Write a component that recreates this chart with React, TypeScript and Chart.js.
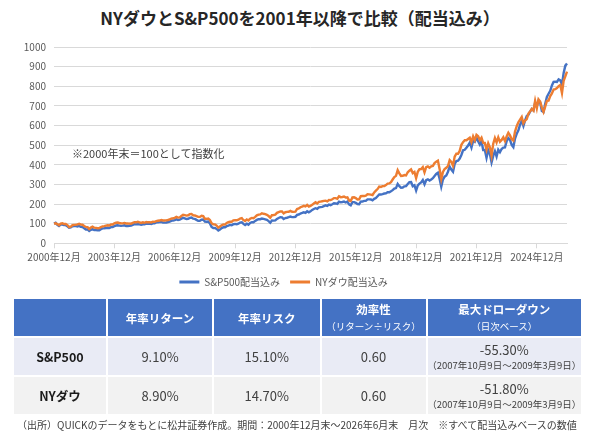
import React, { useEffect, useRef } from "react";
import { Chart, registerables } from "chart.js";

Chart.register(...registerables);

const FONT = '"Noto Sans CJK JP", "Noto Sans", sans-serif';

// Categories: month-end labels from 2000年12月 to 2026年6月
const START_YEAR = 2000;
const START_MONTH = 12;
const END_YEAR = 2026;
const END_MONTH = 6;
const months: string[] = [];
for (let y = START_YEAR, m = START_MONTH; y < END_YEAR || (y === END_YEAR && m <= END_MONTH); ) {
  months.push(`${y}年${m}月`);
  m++;
  if (m > 12) { m = 1; y++; }
}

const tickLabels = [
  "2000年12月", "2003年12月", "2006年12月", "2009年12月", "2012年12月",
  "2015年12月", "2018年12月", "2021年12月", "2024年12月",
];

const seriesNames = ["S&P500配当込み", "NYダウ配当込み"];
const seriesColors = ["#4472C4", "#ED7D31"];

// S&P500 total return index (2000年末 = 100), monthly
const spx = [
  100.0,
  104.2, 94.6, 88.5, 95.3, 95.8, 93.4, 92.4, 86.5, 79.4, 80.9, 86.9, 87.6,
  87.3, 85.6, 88.7, 83.3, 82.5, 76.5, 70.5, 70.8, 63.0, 68.5, 72.4, 68.0,
  67.4, 66.2, 66.7, 72.2, 75.9, 76.7, 77.9, 79.3, 78.4, 82.7, 83.3, 87.5,
  90.6, 91.7, 90.2, 88.7, 89.8, 91.4, 88.3, 88.4, 89.3, 90.5, 94.0, 97.1,
  96.3, 98.1, 96.3, 94.3, 97.1, 97.1, 100.6, 99.4, 100.2, 98.4, 101.8, 101.7,
  106.4, 106.5, 107.6, 108.9, 105.5, 105.5, 106.1, 108.4, 111.0, 114.5, 116.4, 117.8,
  121.8, 119.2, 120.4, 125.5, 129.7, 127.3, 123.2, 124.8, 129.3, 131.2, 125.4, 124.3,
  119.3, 115.1, 114.4, 119.9, 121.1, 110.7, 109.6, 111.0, 100.9, 83.8, 77.5, 78.1,
  73.2, 65.1, 70.7, 77.3, 81.4, 81.4, 87.4, 90.5, 93.7, 91.8, 97.1, 98.8,
  97.3, 100.0, 105.9, 107.5, 98.7, 93.4, 99.8, 95.0, 103.4, 107.2, 107.0, 114.0,
  119.0, 122.7, 122.7, 126.2, 124.4, 122.2, 119.5, 112.8, 104.6, 115.9, 115.3, 116.4,
  124.0, 129.1, 133.1, 132.1, 123.8, 128.7, 130.3, 133.0, 136.2, 133.4, 133.8, 134.8,
  144.9, 146.5, 151.7, 154.5, 157.7, 155.3, 163.0, 157.9, 162.6, 169.9, 174.6, 178.7,
  175.8, 183.3, 184.6, 185.8, 189.7, 193.3, 190.4, 197.5, 194.4, 199.0, 203.9, 203.0,
  201.1, 212.2, 208.5, 210.3, 212.4, 208.0, 212.1, 198.8, 193.5, 209.6, 209.7, 206.0,
  199.8, 199.0, 212.2, 212.7, 216.0, 216.2, 223.9, 223.6, 223.3, 219.0, 226.5, 230.6,
  239.8, 248.7, 248.6, 250.8, 253.7, 254.9, 259.8, 260.1, 265.0, 270.9, 278.6, 281.3,
  302.7, 290.9, 283.1, 283.9, 290.0, 291.4, 301.9, 311.1, 312.4, 290.7, 295.9, 268.8,
  295.5, 304.3, 309.8, 322.0, 300.8, 321.6, 325.7, 319.8, 325.4, 332.1, 343.3, 353.2,
  359.7, 329.4, 288.2, 324.7, 339.4, 345.7, 364.7, 390.3, 375.0, 364.6, 403.9, 418.8,
  420.8, 431.8, 450.1, 473.7, 476.3, 487.0, 498.0, 512.5, 488.1, 521.7, 517.4, 540.0,
  519.3, 503.0, 521.0, 475.2, 475.2, 435.3, 475.0, 454.8, 412.4, 445.3, 469.2, 441.6,
  476.6, 464.1, 480.3, 487.4, 488.6, 520.2, 536.5, 527.0, 501.3, 490.3, 534.0, 557.6,
  575.2, 604.9, 623.6, 597.8, 626.5, 648.1, 655.5, 670.4, 684.0, 677.2, 716.0, 698.2,
  726.1, 715.8, 674.6, 669.4, 710.6, 745.8, 762.0, 776.5, 803.9, 822.2, 823.0, 822.0,
  835.0, 830.0, 808.0, 868.0, 905.0, 916.0,
];

// NY Dow total return index (2000年末 = 100), monthly
const dow = [
  100.0,
  101.8, 98.1, 92.4, 100.4, 102.0, 98.2, 98.4, 93.0, 82.7, 84.9, 92.1, 93.7,
  94.6, 96.4, 99.3, 94.9, 94.7, 88.2, 83.4, 82.7, 72.4, 80.1, 84.9, 79.6,
  78.5, 76.9, 77.9, 82.7, 86.3, 87.6, 90.0, 91.8, 90.4, 95.6, 95.4, 101.9,
  104.6, 105.5, 103.3, 102.0, 101.6, 104.0, 101.1, 101.4, 100.5, 100.0, 104.0, 107.5,
  107.0, 109.8, 107.1, 104.0, 106.8, 104.8, 108.5, 106.9, 107.8, 106.5, 110.2, 109.3,
  113.3, 114.7, 115.9, 118.6, 116.5, 116.3, 116.7, 118.7, 121.8, 126.0, 127.5, 130.0,
  134.8, 131.0, 131.9, 139.5, 145.5, 143.2, 141.1, 142.7, 148.4, 148.8, 142.8, 141.7,
  138.6, 134.4, 134.4, 140.5, 138.5, 124.4, 124.7, 126.5, 118.9, 102.2, 96.8, 96.2,
  90.3, 79.7, 85.9, 92.2, 96.0, 95.4, 103.6, 107.2, 109.6, 109.7, 116.8, 117.7,
  117.1, 120.1, 126.3, 128.0, 117.9, 113.7, 121.7, 116.5, 125.5, 129.3, 128.0, 134.7,
  142.2, 146.2, 147.3, 153.2, 150.3, 148.5, 145.2, 138.9, 130.5, 143.0, 144.1, 146.1,
  155.1, 159.1, 162.2, 162.3, 152.2, 158.2, 159.8, 160.8, 165.0, 160.8, 160.0, 160.9,
  174.8, 177.2, 183.8, 187.1, 190.6, 188.0, 195.5, 186.8, 190.8, 196.0, 202.8, 209.0,
  202.7, 210.7, 212.5, 214.1, 215.8, 217.2, 213.8, 220.7, 220.0, 224.5, 230.2, 230.1,
  226.9, 239.7, 235.0, 235.9, 238.1, 232.9, 233.9, 218.5, 215.3, 233.5, 234.3, 230.4,
  223.3, 224.0, 239.8, 241.0, 241.2, 243.1, 249.9, 249.5, 248.3, 246.0, 259.3, 268.0,
  276.1, 289.3, 287.2, 291.1, 292.0, 296.8, 304.3, 305.1, 311.4, 324.9, 337.4, 343.6,
  372.4, 356.4, 343.2, 344.1, 347.7, 345.6, 361.9, 369.7, 376.8, 357.7, 363.7, 332.2,
  364.2, 377.6, 377.8, 387.5, 361.6, 387.6, 391.4, 384.7, 392.2, 394.1, 408.7, 415.8,
  421.3, 378.9, 326.8, 363.0, 378.5, 384.9, 394.0, 423.9, 414.2, 395.1, 441.9, 456.3,
  456.0, 470.5, 501.7, 515.2, 525.2, 524.8, 531.4, 537.8, 514.8, 544.8, 524.5, 552.7,
  544.9, 525.7, 537.9, 511.5, 511.7, 477.3, 509.4, 488.7, 445.5, 507.7, 536.5, 514.1,
  539.6, 517.0, 526.7, 539.8, 520.9, 544.7, 562.9, 549.6, 530.4, 523.2, 569.1, 596.6,
  616.9, 630.6, 643.7, 611.5, 625.6, 632.6, 660.4, 672.1, 684.5, 675.3, 726.2, 687.9,
  733.2, 721.6, 691.4, 669.4, 695.8, 725.8, 726.4, 749.7, 763.7, 782.9, 785.0, 791.0,
  800.0, 806.0, 766.0, 828.0, 850.0, 875.0,
];

const Y_MIN = 0;
const Y_MAX = 1000;
const Y_STEP = 100;

// Table contents
const tableHeaders = [
  { main: "", sub: "" },
  { main: "年率リターン", sub: "" },
  { main: "年率リスク", sub: "" },
  { main: "効率性", sub: "（リターン÷リスク）" },
  { main: "最大ドローダウン", sub: "（日次ベース）" },
];
const rowNames = ["S&P500", "NYダウ"];
const annualReturn = ["9.10%", "8.90%"];
const annualRisk = ["15.10%", "14.70%"];
const efficiency = ["0.60", "0.60"];
const maxDrawdown = ["-55.30%", "-51.80%"];
const drawdownPeriod = ["（2007年10月9日～2009年3月9日）", "（2007年10月9日～2009年3月9日）"];

const title = "NYダウとS&P500を2001年以降で比較（配当込み）";
const note = "※2000年末＝100として指数化";
const footnote =
  "（出所）QUICKのデータをもとに松井証券作成。期間：2000年12月末～2026年6月末　月次　※すべて配当込みベースの数値";

const colWidths = [92, 104, 105.5, 104, 153.5];
const rowBgs = ["#E9EBF5", "#F2F2F2"];

function ChartCanvas() {
  const ref = useRef<HTMLCanvasElement | null>(null);
  useEffect(() => {
    if (!ref.current) return;
    const seriesData = [spx, dow];
    const chart = new Chart(ref.current, {
      type: "line",
      data: {
        labels: months,
        datasets: seriesNames.map((name, i) => ({
          label: name,
          data: seriesData[i],
          borderColor: seriesColors[i],
          backgroundColor: seriesColors[i],
          borderWidth: 2.4,
          pointRadius: 0,
          tension: 0,
          fill: false,
          order: i === 0 ? 1 : 0,
        })),
      },
      options: {
        responsive: false,
        animation: false,
        layout: { padding: { left: 0, right: 33, top: 47, bottom: 3 } },
        scales: {
          x: {
            type: "category",
            grid: { drawOnChartArea: false, drawTicks: true, tickLength: 5, color: "#D9D9D9" },
            border: { color: "#D9D9D9" },
            ticks: {
              autoSkip: false,
              maxRotation: 0,
              minRotation: 0,
              padding: 3,
              color: "#595959",
              font: { size: 10, family: FONT },
              callback: function (this: any, v: any) {
                return this.getLabelForValue(v);
              },
            },
            afterBuildTicks: (scale: any) => {
              scale.ticks = scale.ticks.filter((t: any) => tickLabels.includes(months[t.value]));
            },
            afterFit: (scale: any) => {
              scale.height = 23.7;
            },
          },
          y: {
            min: Y_MIN,
            max: Y_MAX,
            ticks: {
              stepSize: Y_STEP,
              padding: 8,
              color: "#595959",
              font: { size: 10, family: FONT },
              callback: (v: any) => String(v),
            },
            grid: { color: "#D9D9D9", drawTicks: false },
            border: { display: false },
            afterFit: (scale: any) => {
              scale.width = 54;
            },
          },
        },
        plugins: {
          legend: {
            position: "bottom",
            labels: {
              boxWidth: 20,
              boxHeight: 3,
              padding: 10,
              color: "#595959",
              font: { size: 10, family: FONT },
              generateLabels: (c: any) =>
                c.data.datasets.map((ds: any, i: number) => ({
                  text: ds.label,
                  fillStyle: ds.borderColor,
                  strokeStyle: ds.borderColor,
                  lineWidth: 0,
                  hidden: false,
                  datasetIndex: i,
                  fontColor: "#595959",
                })),
            },
          },
          tooltip: { enabled: false },
          title: { display: false },
        },
      },
    });
    return () => chart.destroy();
  }, []);
  return <canvas ref={ref} width={600} height={300} style={{ position: "absolute", left: 0, top: 0 }} />;
}

function Table() {
  const headerStyle: React.CSSProperties = {
    background: "#4472C4",
    color: "#fff",
    display: "flex",
    flexDirection: "column",
    alignItems: "center",
    justifyContent: "center",
    textAlign: "center",
  };
  const cellStyle = (r: number): React.CSSProperties => ({
    background: rowBgs[r],
    color: "#404040",
    display: "flex",
    flexDirection: "column",
    alignItems: "center",
    justifyContent: "center",
    textAlign: "center",
    fontSize: 13,
    whiteSpace: "nowrap",
  });
  return (
    <div
      style={{
        position: "absolute",
        left: 14,
        top: 299,
        display: "grid",
        gridTemplateColumns: colWidths.map((w) => `${w}px`).join(" "),
        gridTemplateRows: "37px 37px 37px",
        columnGap: 2,
        rowGap: 2,
        fontFamily: FONT,
      }}
    >
      {tableHeaders.map((h, i) => (
        <div key={"h" + i} style={headerStyle}>
          {h.main && (
            <div style={{ fontSize: 11.5, fontWeight: 700, lineHeight: "16px" }}>{h.main}</div>
          )}
          {h.sub && <div style={{ fontSize: 9.5, lineHeight: "15px", marginTop: 2 }}>{h.sub}</div>}
        </div>
      ))}
      {rowNames.map((name, r) => (
        <React.Fragment key={"r" + r}>
          <div style={{ ...cellStyle(r), color: "#1A1A1A", fontWeight: 700, fontSize: 12.5 }}>{name}</div>
          <div style={cellStyle(r)}>{annualReturn[r]}</div>
          <div style={cellStyle(r)}>{annualRisk[r]}</div>
          <div style={cellStyle(r)}>{efficiency[r]}</div>
          <div style={cellStyle(r)}>
            <div style={{ lineHeight: "17px" }}>{maxDrawdown[r]}</div>
            <div style={{ fontSize: 9.5, lineHeight: "15px" }}>{drawdownPeriod[r]}</div>
          </div>
        </React.Fragment>
      ))}
    </div>
  );
}

export default function App() {
  return (
    <div
      style={{
        position: "fixed",
        left: 0,
        top: 0,
        width: 600,
        height: 438,
        background: "#fff",
        overflow: "hidden",
        fontFamily: FONT,
      }}
    >
      <div
        style={{
          position: "absolute",
          top: 8,
          left: 0,
          width: 600,
          textAlign: "center",
          fontSize: 17,
          fontWeight: 700,
          lineHeight: "20px",
          color: "#262626",
        }}
      >
        {title}
      </div>
      <ChartCanvas />
      <div
        style={{
          position: "absolute",
          left: 72,
          top: 145,
          fontSize: 11,
          lineHeight: "16px",
          color: "#404040",
          whiteSpace: "nowrap",
        }}
      >
        {note}
      </div>
      <Table />
      <div
        style={{
          position: "absolute",
          left: 17,
          top: 417,
          fontSize: 10,
          lineHeight: "16px",
          color: "#404040",
          whiteSpace: "nowrap",
        }}
      >
        {footnote}
      </div>
    </div>
  );
}
